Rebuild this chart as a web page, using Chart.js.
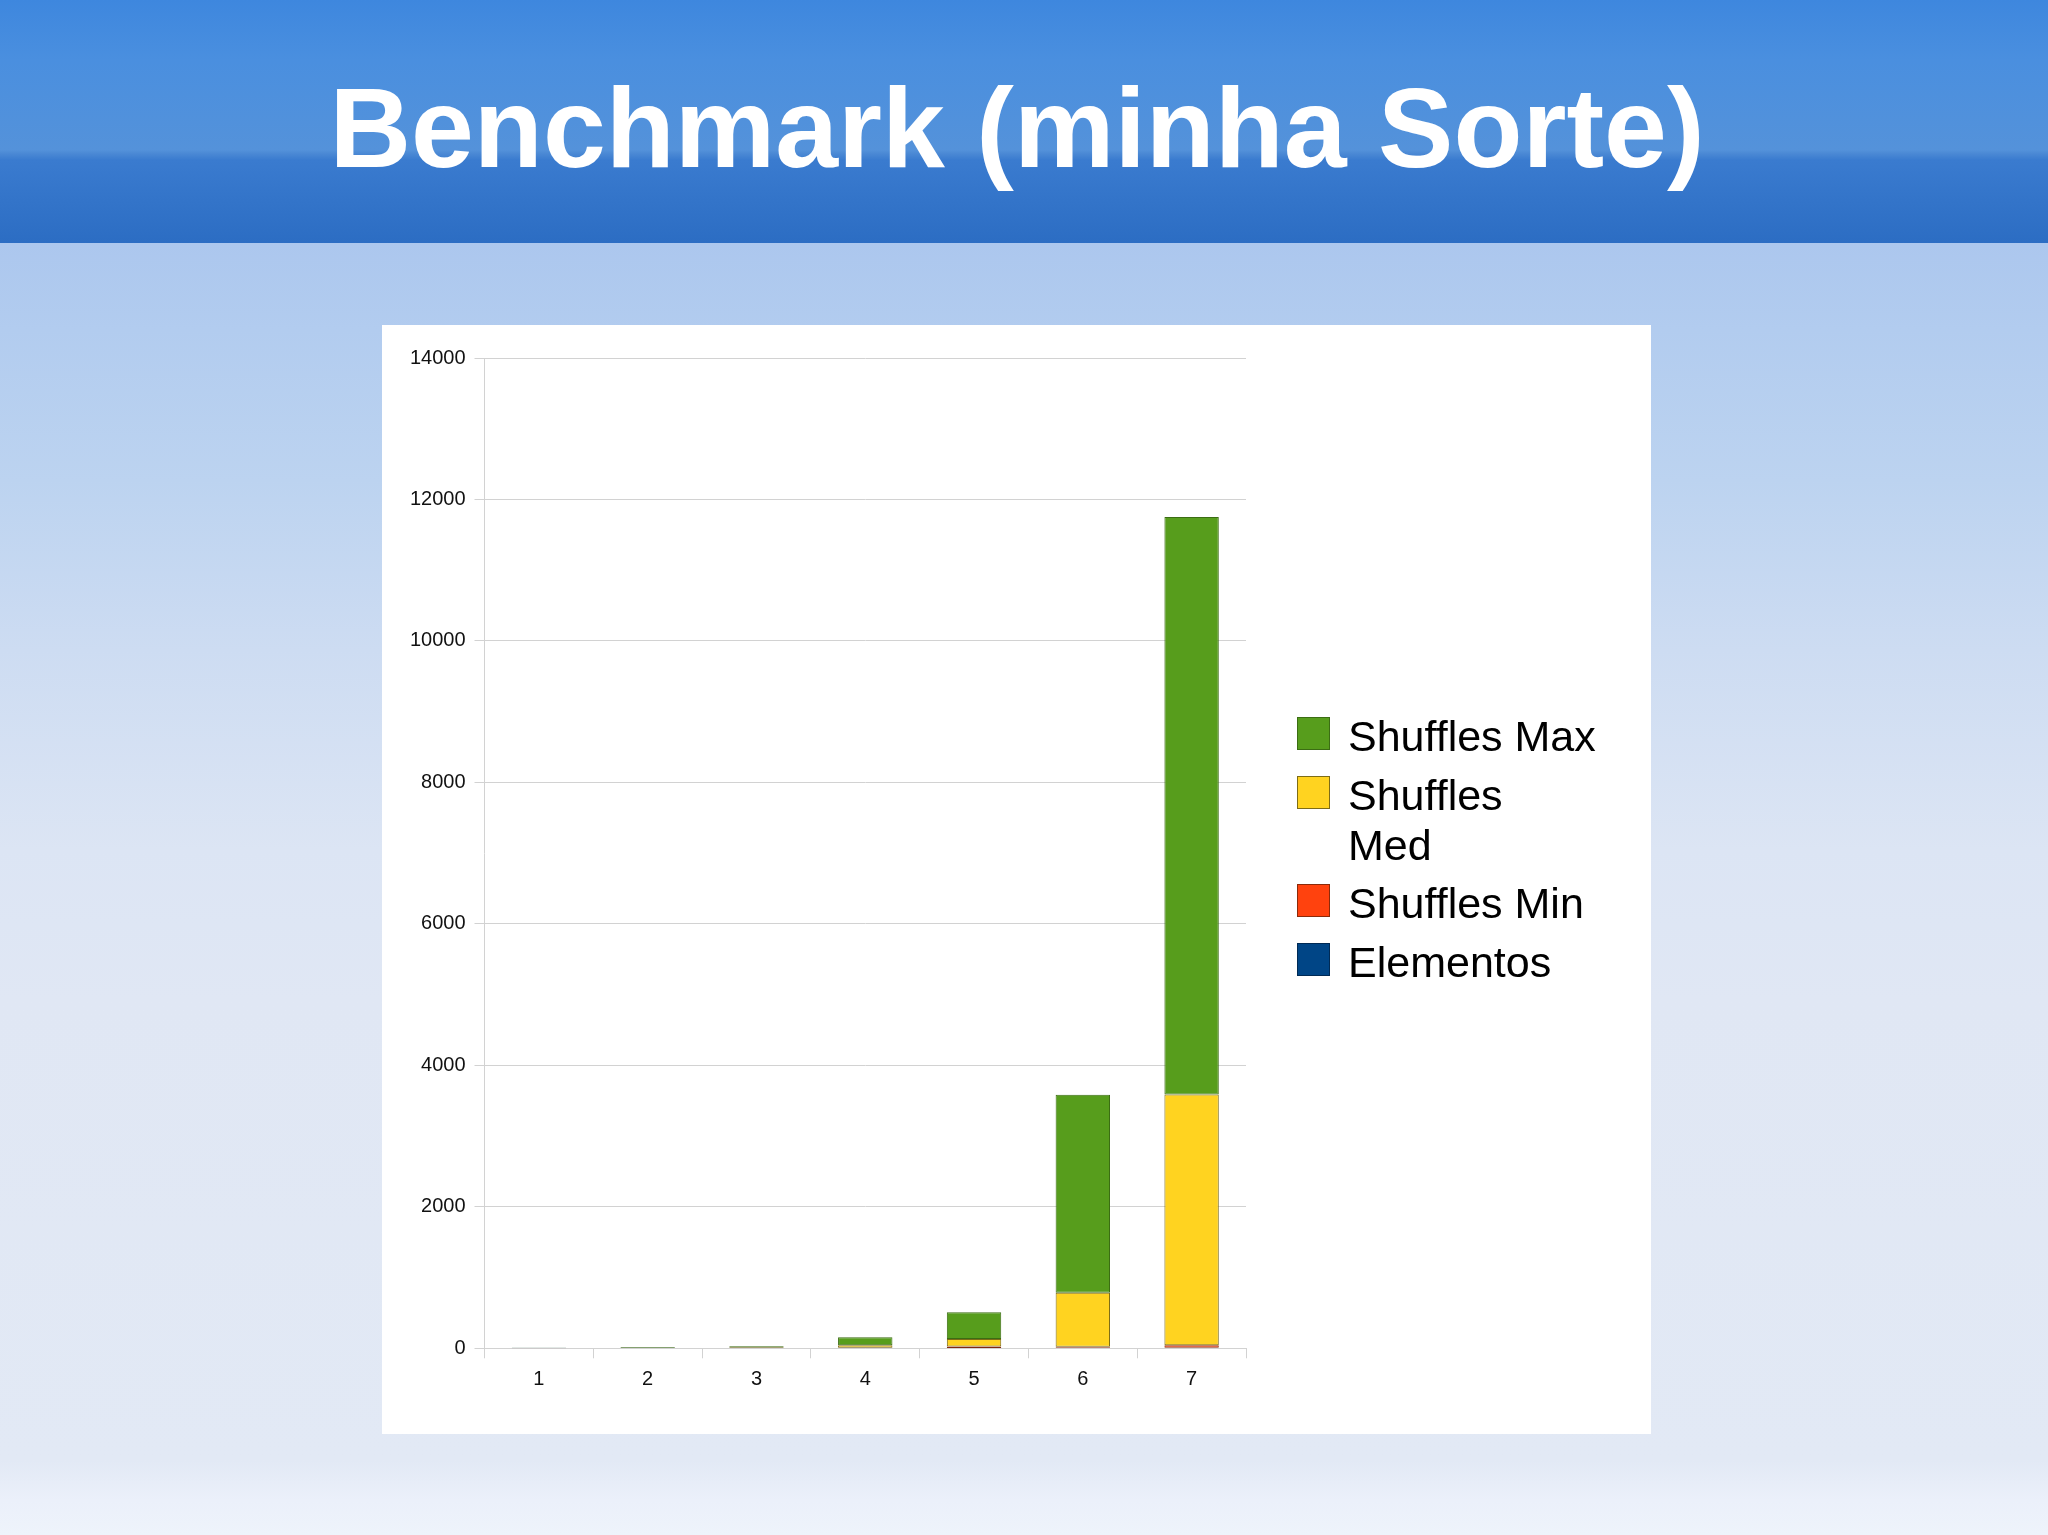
<!DOCTYPE html>
<html>
<head>
<meta charset="utf-8">
<script src="https://cdn.jsdelivr.net/npm/chart.js@4.4.1/dist/chart.umd.min.js"></script>
<style>
  html, body { margin: 0; padding: 0; }
  body { width: 2048px; height: 1535px; overflow: hidden; font-family: "Liberation Sans", Arial, sans-serif; }
  #page { position: relative; width: 2048px; height: 1535px; overflow: hidden;
    background: linear-gradient(to bottom, #acc7ee 0px, #acc7ee 243px, #b2ccef 330px, #bcd3f0 480px, #cddcf2 650px, #dce5f4 850px, #e0e7f4 1000px, #e2e9f5 1460px, #ebf0fa 1500px, #eef3fb 1535px); }
  #header { position: absolute; left: 0; top: 0; width: 2048px; height: 243px;
    background: linear-gradient(to bottom, #3e87de 0px, #4a8fdf 60px, #5492da 150px, #4c8ad5 153px, #3a7bcf 160px, #2c6dc3 243px); }
  #title { position: absolute; left: 0; top: 72px; width: 2034px; text-align: center; color: #fff;
    font: bold 113px/113px "Liberation Sans", Arial, sans-serif; white-space: nowrap; }
  #box { position: absolute; left: 382px; top: 325px; width: 1269px; height: 1109px; background: #fff; }
  #chart { position: absolute; left: 382px; top: 325px; }
  #legend { position: absolute; left: 1297px; top: 711px; }
  .item { display: flex; align-items: flex-start; margin-bottom: 8.5px; }
  .sw { width: 33px; height: 33px; box-sizing: border-box; border: 1px solid; margin-top: 6.3px; flex: none; }
  .lbl { margin-left: 18px; font: 43px/50px "Liberation Sans", Arial, sans-serif; color: #000; }
</style>
</head>
<body>
<div id="page">
  <div id="header"></div>
  <div id="title">Benchmark (minha Sorte)</div>
  <div id="box"></div>
  <canvas id="chart" width="1269" height="1109"></canvas>
  <div id="legend"></div>
</div>
<script>
// ---- data ----
const categories = ['1', '2', '3', '4', '5', '6', '7'];
const elementos   = [2, 3, 4, 5, 6, 7, 8];
const shufflesMin = [1, 1, 2, 4, 18, 14, 35];
const shufflesMed = [1, 4, 8, 34, 108, 765, 3545];
const shufflesMax = [3, 10, 14, 113, 378, 2800, 8165];
const seriesNames = ['Elementos', 'Shuffles Min', 'Shuffles Med', 'Shuffles Max'];
const yTicks = [0, 2000, 4000, 6000, 8000, 10000, 12000, 14000];

// ---- styles ----
const fills   = ['#004586', '#ff420e', '#ffd320', '#579d1c'];
const borders = ['#002a55', '#8b2a0a', '#7d6c16', '#3b6d13'];
const seriesValues = [elementos, shufflesMin, shufflesMed, shufflesMax];

const gridColor = '#d2d2d2';

const chart = new Chart(document.getElementById('chart'), {
  type: 'bar',
  data: {
    labels: categories,
    datasets: seriesNames.map((name, i) => ({
      label: name,
      data: seriesValues[i],
      backgroundColor: fills[i],
      borderColor: borders[i],
      borderWidth: 1,
      borderSkipped: false,
      barPercentage: 0.5,
      categoryPercentage: 1.0
    }))
  },
  options: {
    responsive: false,
    animation: false,
    devicePixelRatio: 1,
    layout: { padding: { top: 33, right: 405, bottom: 0, left: 0 } },
    plugins: { legend: { display: false }, tooltip: { enabled: false } },
    scales: {
      x: {
        stacked: true,
        afterFit: s => { s.height = 85.7; },
        grid: {
          offset: true,
          drawOnChartArea: true,
          color: ctx => (ctx.index === categories.length ? gridColor : 'rgba(0,0,0,0)'),
          tickColor: gridColor,
          tickLength: 10,
          lineWidth: 1
        },
        border: { display: true, color: gridColor },
        ticks: {
          color: '#111',
          padding: 9,
          font: { family: '"Liberation Sans", Arial, sans-serif', size: 20 }
        }
      },
      y: {
        stacked: true,
        min: yTicks[0],
        max: yTicks[yTicks.length - 1],
        afterFit: s => { s.width = 102.5; },
        afterBuildTicks: s => { s.ticks = yTicks.map(v => ({ value: v })); },
        grid: { color: gridColor, tickColor: gridColor, tickLength: 10, lineWidth: 1 },
        border: { display: true, color: gridColor },
        ticks: {
          color: '#111',
          padding: 9,
          callback: v => String(v),
          font: { family: '"Liberation Sans", Arial, sans-serif', size: 20 }
        }
      }
    }
  }
});

// ---- legend (HTML, built from the datasets, top of stack first) ----
const legend = document.getElementById('legend');
const mctx = document.createElement('canvas').getContext('2d');
mctx.font = '43px "Liberation Sans", Arial, sans-serif';
const textWidth = Math.ceil(mctx.measureText('Shuffles Max').width) + 1;
chart.data.datasets.slice().reverse().forEach(ds => {
  const item = document.createElement('div');
  item.className = 'item';
  const sw = document.createElement('div');
  sw.className = 'sw';
  sw.style.background = ds.backgroundColor;
  sw.style.borderColor = ds.borderColor;
  const lbl = document.createElement('div');
  lbl.className = 'lbl';
  lbl.style.width = textWidth + 'px';
  lbl.textContent = ds.label;
  item.appendChild(sw);
  item.appendChild(lbl);
  legend.appendChild(item);
});
</script>
</body>
</html>
